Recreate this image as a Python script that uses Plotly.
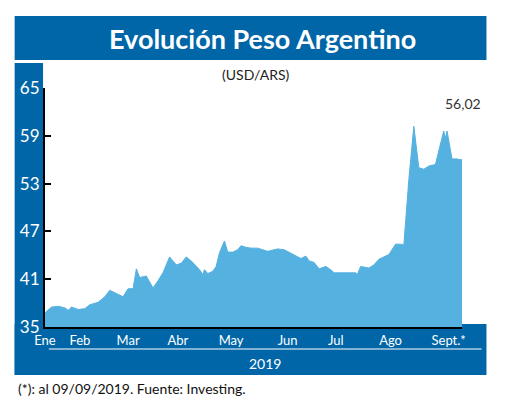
import plotly.graph_objects as go

# data: day index since 1 Jan 2019 and USD/ARS value
days = [0, 4, 8, 12, 14, 16, 20, 24, 27, 32, 36, 39, 43, 47, 50, 53, 55, 57, 61, 65, 68, 71, 75, 79, 82, 85, 89, 93, 95, 96, 98, 101, 103, 105, 108, 110, 113, 116, 118, 121, 124, 128, 134, 140, 144, 154, 157, 159, 162, 165, 169, 172, 174, 187, 188, 190, 195, 198, 201, 204, 207, 211, 214, 216, 219, 222, 225, 228, 231, 235, 240, 241, 242, 245, 248, 250, 251]
values = [36.8, 37.5, 37.6, 37.4, 37.1, 37.5, 37.2, 37.3, 37.8, 38.1, 38.8, 39.6, 39.2, 38.8, 39.8, 39.8, 42.3, 41.2, 41.4, 39.9, 40.8, 41.8, 43.8, 42.8, 43.0, 43.8, 43.1, 42.2, 41.6, 42.2, 41.7, 42.0, 42.6, 44.3, 45.8, 44.4, 44.4, 44.7, 45.2, 45.0, 44.9, 44.9, 44.5, 44.8, 44.7, 43.6, 43.9, 43.3, 43.1, 42.3, 42.6, 42.2, 41.8, 41.8, 41.6, 42.6, 42.4, 42.8, 43.5, 43.8, 44.1, 45.4, 45.4, 45.3, 53.5, 60.2, 55.0, 54.8, 55.2, 55.4, 59.6, 58.7, 59.6, 56.1, 56.1, 56.0, 56.02]
month_days = [0, 21, 50, 80, 112, 146, 175, 208, 243]
month_labels = ["Ene", "Feb", "Mar", "Abr", "May", "Jun", "Jul", "Ago", "Sept.*"]
y_ticks = [35, 41, 47, 53, 59, 65]
last_label = "56,02"

BLUE = "#0066a8"
FILL = "#55b1e0"
FONT = "Lato"

OFF = 8  # page body margin
L, R, T, B = 36 - OFF, 462 - OFF, 88 - OFF, 327 - OFF
W, H = 520 - OFF, 400 - OFF
def px(x): return (x - OFF - L) / (R - L)
def py(y): return (B - (y - OFF)) / (B - T)

fig = go.Figure(go.Scatter(x=days, y=values, mode="lines", fill="tozeroy",
                           line=dict(color=FILL, width=1), fillcolor=FILL, hoverinfo="skip"))

shapes = [
    dict(type="rect", xref="paper", yref="paper", x0=px(5), x1=px(487), y0=py(60), y1=py(16),
         fillcolor=BLUE, line_width=0, layer="below"),
    dict(type="rect", xref="paper", yref="paper", x0=px(5), x1=px(34), y0=py(375), y1=py(63),
         fillcolor=BLUE, line_width=0, layer="below"),
    dict(type="rect", xref="paper", yref="paper", x0=px(5), x1=px(487), y0=py(375), y1=py(324),
         fillcolor=BLUE, line_width=0, layer="below"),
    dict(type="line", xref="paper", yref="paper", x0=px(40), x1=px(482), y0=py(349), y1=py(349),
         line=dict(color="white", width=1)),
]
def a(text, x, y, size, color, **kw):
    d = dict(text=text, x=px(x), y=py(y), xref="paper", yref="paper", showarrow=False,
             xanchor="center", yanchor="middle", font=dict(color=color, size=size, family=FONT))
    d.update(kw)
    return d
ann = [
    a("<b>Evolución Peso Argentino</b>", 258, 38, 27, "white"),
    a("(USD/ARS)", 251, 75, 14, "#222"),
    a(last_label, 463, 103, 14, "#333"),
    a("2019", 261, 363, 14, "white"),
    a("(*): al 09/09/2019. Fuente: Investing.", 6, 388, 14, "#111", xanchor="left"),
]

fig.update_layout(
    width=W, height=H, margin=dict(l=L, r=W - R, t=T, b=H - B),
    paper_bgcolor="rgba(0,0,0,0)", plot_bgcolor="rgba(0,0,0,0)", showlegend=False,
    shapes=shapes, annotations=ann,
    xaxis=dict(range=[0, 251], tickvals=month_days, ticktext=month_labels, showgrid=False,
               showline=True, linecolor="black", linewidth=2, ticks="", zeroline=False,
               tickfont=dict(color="white", size=13, family=FONT)),
    yaxis=dict(range=[35, 65], tickvals=y_ticks, showgrid=False, showline=True, linecolor="black",
               linewidth=2, ticks="inside", ticklen=6, tickcolor="black", tickwidth=2, zeroline=False,
               tickfont=dict(color="white", size=17, family=FONT)),
)
fig.write_html("out.html")
